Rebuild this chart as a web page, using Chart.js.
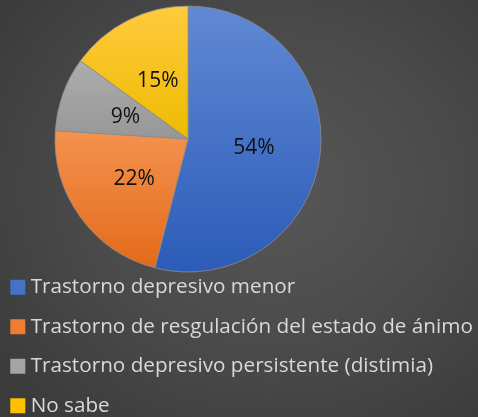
<!DOCTYPE html>
<html>
<head>
<meta charset="utf-8">
<script src="https://cdn.jsdelivr.net/npm/chart.js@4/dist/chart.umd.min.js"></script>
<style>
  html, body { margin: 0; padding: 0; }
  body {
    width: 478px; height: 417px; overflow: hidden;
    background: radial-gradient(ellipse 340px 300px at 270px 190px, #575757 0%, #4a4a4a 55%, #3b3b3b 100%);
  }
  #wrap { position: relative; width: 478px; height: 417px; }
</style>
</head>
<body>
<div id="wrap"><canvas id="c" width="478" height="417"></canvas></div>
<script>
// Categories and their shares (%)
const categories = [
  'Trastorno depresivo menor',
  'Trastorno de resgulación del estado de ánimo',
  'Trastorno depresivo persistente (distimia)',
  'No sabe'
];
const shares = [54, 22, 9, 15];

// Slice palette: solid colour for the legend, light/dark ends for the slice shading
const solidColors = ['#4472c4', '#ed7d31', '#a5a5a5', '#ffc000'];
const lightColors = ['#6089d4', '#f4924f', '#adadad', '#ffca3e'];
const darkColors  = ['#2c5cb8', '#e36a1a', '#979797', '#eebb00'];

const PIE_RADIUS = 133;
const FONT = '"Open Sans", sans-serif';
const LEGEND_SIZE = 20.7;

// Vertical gradient spanning the slice's own height range
function sliceFill(ctx) {
  const chart = ctx.chart;
  const area = chart.chartArea;
  const i = ctx.dataIndex;
  if (!area || i === undefined) return solidColors[i || 0];
  const cy = (area.top + area.bottom) / 2;
  const total = shares.reduce((a, b) => a + b, 0);
  let start = -Math.PI / 2;
  for (let k = 0; k < i; k++) start += shares[k] / total * Math.PI * 2;
  const end = start + shares[i] / total * Math.PI * 2;
  const ys = [cy, cy + PIE_RADIUS * Math.sin(start), cy + PIE_RADIUS * Math.sin(end)];
  for (const a of [Math.PI / 2, 3 * Math.PI / 2]) {
    if (a > start && a < end) ys.push(cy + PIE_RADIUS * Math.sin(a));
  }
  const y0 = Math.min(...ys), y1 = Math.max(...ys);
  const g = chart.ctx.createLinearGradient(0, y0, 0, y1);
  g.addColorStop(0, lightColors[i]);
  g.addColorStop(1, darkColors[i]);
  return g;
}

// Percentage labels at the centre of each slice
const sliceLabels = {
  id: 'sliceLabels',
  afterDatasetsDraw(chart) {
    const meta = chart.getDatasetMeta(0);
    const ctx = chart.ctx;
    ctx.save();
    ctx.font = '21px ' + FONT;
    ctx.fillStyle = '#111111';
    ctx.textAlign = 'center';
    ctx.textBaseline = 'middle';
    meta.data.forEach((arc, i) => {
      const p = arc.tooltipPosition();
      ctx.fillText(shares[i] + '%', p.x, p.y + 1);
    });
    ctx.restore();
  }
};

// Legend sits under the pie but runs across the full canvas width
const legendBand = {
  id: 'legendBand',
  afterLayout(chart) {
    const lg = chart.legend;
    lg.left = -3.5;
    lg.right = chart.width;
    lg.width = lg.right - lg.left;
    lg.top = 258;
    lg.bottom = lg.top + lg.height;
  }
};

new Chart(document.getElementById('c'), {
  type: 'pie',
  data: {
    labels: categories,
    datasets: [{
      data: shares,
      backgroundColor: sliceFill,
      borderColor: 'rgba(140,140,140,0.8)',
      borderWidth: 1,
      radius: PIE_RADIUS,
      clip: false
    }]
  },
  options: {
    responsive: false,
    animation: false,
    devicePixelRatio: 1,
    layout: { padding: { left: 0, right: 102, top: 37, bottom: 8 } },
    plugins: {
      tooltip: { enabled: false },
      legend: {
        position: 'bottom',
        align: 'start',
        labels: {
          color: '#d9d9d9',
          font: { family: FONT, size: LEGEND_SIZE },
          boxWidth: 5,
          boxHeight: 5,
          padding: 39.5 - LEGEND_SIZE,
          generateLabels(chart) {
            return categories.map((label, i) => ({
              text: label,
              fillStyle: solidColors[i],
              strokeStyle: solidColors[i],
              lineWidth: 10,
              fontColor: '#d9d9d9',
              hidden: false,
              index: i
            }));
          }
        }
      }
    }
  },
  plugins: [sliceLabels, legendBand]
});
</script>
</body>
</html>
